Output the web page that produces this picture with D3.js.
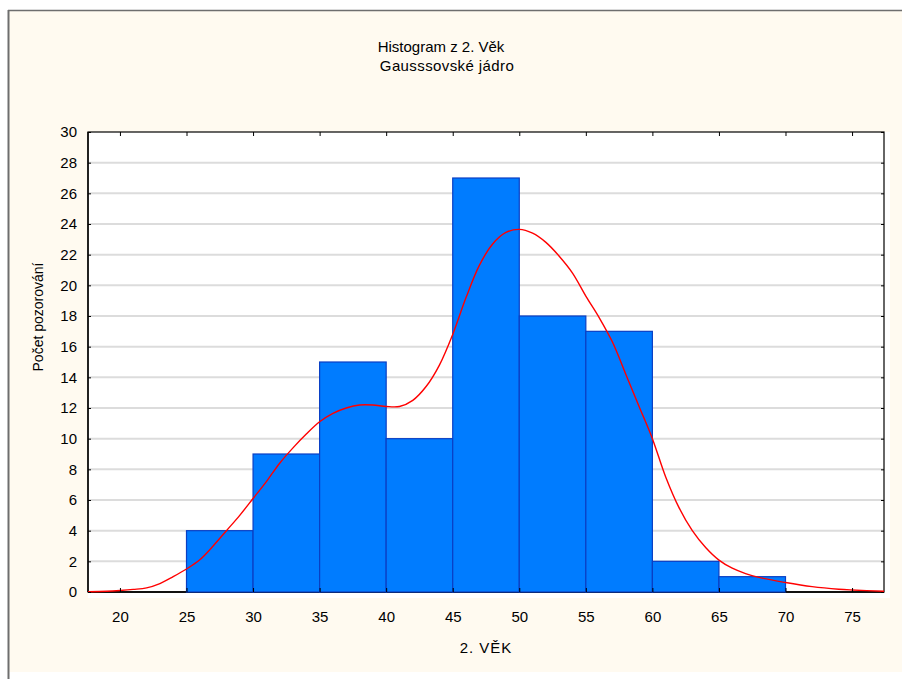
<!DOCTYPE html>
<html>
<head>
<meta charset="utf-8">
<script src="https://cdn.jsdelivr.net/npm/d3@7"></script>
<style>
  html, body { margin: 0; padding: 0; background: #ffffff; }
  svg { display: block; font-family: "Liberation Sans", Arial, sans-serif; }
</style>
</head>
<body>
<svg id="chart" width="902" height="679"></svg>
<script>
// Histogram-Klassen (Beginn jeder Klasse, Breite 5 Jahre)
const binStarts = [20, 25, 30, 35, 40, 45, 50, 55, 60, 65, 70];
const binCounts = [0, 4, 9, 15, 10, 27, 18, 17, 2, 1, 0];
const binWidth = 5;

// Gausssche Kerndichte (in Anzahl skaliert)
const kdeX = [17.6, 19, 20, 21, 22, 23, 24, 25, 26, 27, 28, 29, 30, 31, 32, 33, 34, 35, 36, 37, 38, 39,
              40, 41, 42, 43, 44, 45, 46, 47, 48, 49, 50, 51, 52, 53, 54, 55, 56, 57, 58, 59,
              60, 61, 62, 63, 64, 65, 66, 67, 68, 70, 72, 74, 75, 77.4];
const kdeY = [0.02, 0.05, 0.1, 0.17, 0.27, 0.55, 1.0, 1.5, 2.1, 3.0, 4.0, 5.0, 6.1, 7.2, 8.4, 9.4, 10.3, 11.1, 11.65, 12.0, 12.2, 12.2,
              12.1, 12.1, 12.5, 13.4, 14.8, 16.8, 19.2, 21.3, 22.7, 23.45, 23.65, 23.4, 22.8, 21.9, 20.8, 19.3, 17.9, 16.3, 14.2, 12.1,
              10.0, 7.5, 5.5, 4.0, 2.9, 2.08, 1.55, 1.2, 0.95, 0.62, 0.35, 0.18, 0.13, 0.05];

const yTicks = d3.range(0, 31, 2);
const xTicks = [20, 25, 30, 35, 40, 45, 50, 55, 60, 65, 70, 75];

const svg = d3.select('#chart');

// Rahmen / Hintergrund
svg.append('rect')
    .attr('x', 9).attr('y', 11)
    .attr('width', 893).attr('height', 661)
    .attr('fill', '#fffaf0');
svg.append('line')
    .attr('x1', 8.5).attr('x2', 8.5).attr('y1', 10).attr('y2', 679)
    .style('stroke', '#6e6e6e').style('stroke-width', 2);
svg.append('line')
    .attr('x1', 8).attr('x2', 902).attr('y1', 10.5).attr('y2', 10.5)
    .style('stroke', '#6e6e6e').style('stroke-width', 1.5);

const plot = { left: 88, right: 884, top: 132, bottom: 592 };

const x = d3.scaleLinear().domain([17.6, 77.4]).range([plot.left, plot.right]);
const y = d3.scaleLinear().domain([0, 30]).range([plot.bottom, plot.top]);

// Plotflaeche
svg.append('rect')
    .attr('x', plot.left).attr('y', plot.top)
    .attr('width', plot.right - plot.left + 6).attr('height', plot.bottom - plot.top + 6)
    .attr('fill', '#ffffff');

// Gitterlinien
svg.append('g')
    .selectAll('line')
    .data(yTicks.filter(d => d > 0 && d < 30))
    .enter()
    .append('line')
    .attr('x1', plot.left).attr('x2', plot.right)
    .attr('y1', d => y(d)).attr('y2', d => y(d))
    .style('stroke', '#dcdcdc')
    .style('stroke-width', 2);

// Plotrahmen
svg.append('rect')
    .attr('x', plot.left).attr('y', plot.top)
    .attr('width', plot.right - plot.left).attr('height', plot.bottom - plot.top)
    .attr('fill', 'none')
    .attr('stroke', '#000')
    .attr('stroke-width', 1.2);
svg.append('line')
    .attr('x1', plot.left).attr('x2', plot.right)
    .attr('y1', plot.bottom).attr('y2', plot.bottom)
    .style('stroke', '#111')
    .style('stroke-width', 2);
svg.append('line')
    .attr('x1', plot.left).attr('x2', plot.left)
    .attr('y1', plot.top).attr('y2', plot.bottom)
    .style('stroke', '#111')
    .style('stroke-width', 1.6);

// Balken
svg.append('g')
    .selectAll('rect')
    .data(binStarts.map((s, i) => ({ start: s, count: binCounts[i] })))
    .enter()
    .append('rect')
    .attr('x', d => x(d.start))
    .attr('y', d => y(d.count))
    .attr('width', d => x(d.start + binWidth) - x(d.start))
    .attr('height', d => y(0) - y(d.count))
    .attr('fill', '#007cff')
    .attr('stroke', '#0a3fc4')
    .attr('stroke-width', d => d.count === 0 ? 2 : 1.2);

// Kerndichte-Kurve
const line = d3.line()
    .x(d => x(d[0]))
    .y(d => y(d[1]))
    .curve(d3.curveCatmullRom.alpha(0.5));

svg.append('path')
    .datum(kdeX.map((v, i) => [v, kdeY[i]]))
    .attr('d', line)
    .attr('fill', 'none')
    .attr('stroke', '#ff0000')
    .attr('stroke-width', 1.4);

// Achsen
const yAxis = svg.append('g')
    .attr('transform', `translate(${plot.left},0)`)
    .call(d3.axisRight(y).tickValues(yTicks).tickSize(3).tickFormat(d3.format('d')));
yAxis.selectAll('text')
    .attr('x', -11)
    .style('text-anchor', 'end')
    .style('font-size', '15px')
    .style('fill', '#000');

svg.append('g')
    .attr('transform', `translate(${plot.right},0)`)
    .call(d3.axisLeft(y).tickValues(yTicks).tickSize(3).tickFormat(''));

const xAxis = svg.append('g')
    .attr('transform', `translate(0,${plot.bottom})`)
    .call(d3.axisTop(x).tickValues(xTicks).tickSize(4).tickFormat(d3.format('d')));
xAxis.selectAll('text')
    .attr('y', 19)
    .attr('dy', '0.71em')
    .style('font-size', '15px')
    .style('fill', '#000');

svg.append('g')
    .attr('transform', `translate(0,${plot.top})`)
    .call(d3.axisBottom(x).tickValues(xTicks).tickSize(4).tickFormat(''));

svg.selectAll('.domain').remove();
svg.selectAll('.tick line').style('stroke', '#000');

// Titel
svg.append('text')
    .attr('x', 441).attr('y', 52)
    .attr('text-anchor', 'middle')
    .style('font-size', '15px')
    .text('Histogram z 2. Věk');
svg.append('text')
    .attr('x', 447).attr('y', 71)
    .attr('text-anchor', 'middle')
    .style('font-size', '15px')
    .style('letter-spacing', '0.4px')
    .text('Gausssovské jádro');

// Achsenbeschriftungen
svg.append('text')
    .attr('x', 486).attr('y', 653)
    .attr('text-anchor', 'middle')
    .style('font-size', '15px')
    .style('letter-spacing', '1px')
    .text('2. VĚK');
svg.append('text')
    .attr('transform', 'translate(43,317) rotate(-90)')
    .attr('text-anchor', 'middle')
    .style('font-size', '14px')
    .text('Počet pozorování');
</script>
</body>
</html>
